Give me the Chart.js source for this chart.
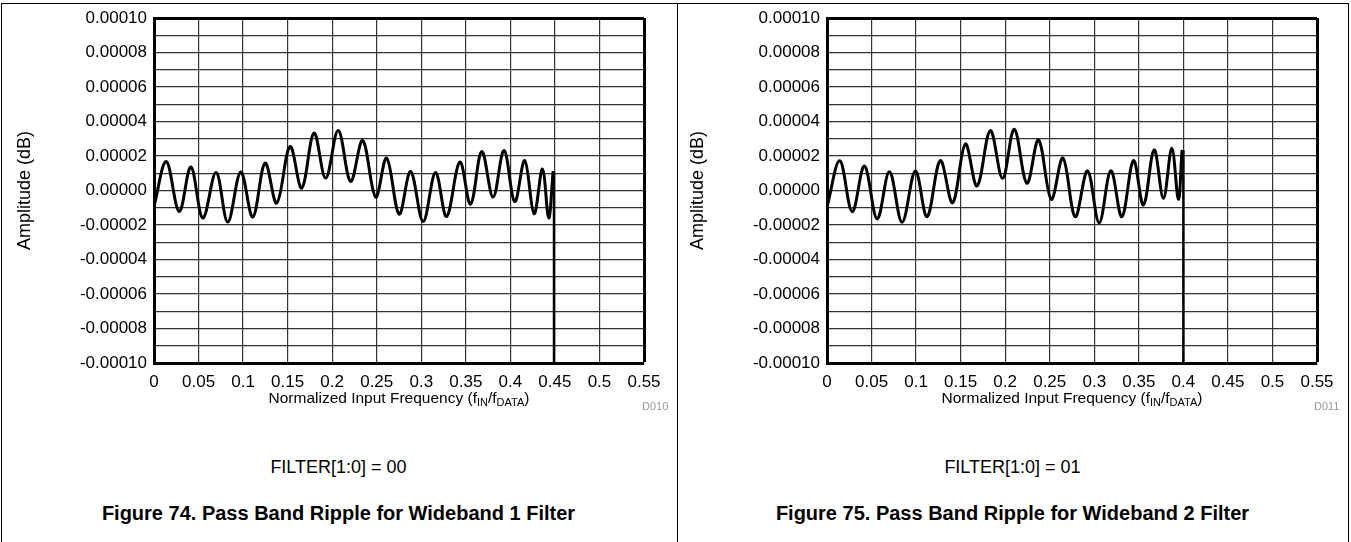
<!DOCTYPE html>
<html>
<head>
<meta charset="utf-8">
<script src="https://cdn.jsdelivr.net/npm/chart.js@4"></script>
<style>
  body { margin: 0; background: #fff; font-family: "Liberation Sans", Arial, sans-serif; }
  #page { position: relative; width: 1351px; height: 542px; overflow: hidden; }
  .frame { position: absolute; left: 1px; top: 3px; width: 1346px; height: 600px;
           border-top: 1px solid #000; border-left: 1px solid #000; border-right: 1px solid #000; }
  .divider { position: absolute; left: 677px; top: 3px; width: 1px; height: 600px; background: #000; }
  canvas { position: absolute; top: 0; }
  .xtitle { position: absolute; width: 400px; text-align: center; font-size: 15.5px; line-height: 18px; color: #000; }
  .xtitle sub { font-size: 11px; line-height: 0; vertical-align: -3px; }
  .code { position: absolute; font-size: 11px; color: #999; }
  .filter { position: absolute; width: 677px; text-align: center; font-size: 18px; color: #000; }
  .caption { position: absolute; width: 677px; text-align: center; font-size: 20px; font-weight: bold; color: #000; }
</style>
</head>
<body>
<div id="page">
  <div class="frame"></div>
  <div class="divider"></div>
  <canvas id="wideband1Chart" width="676" height="420" style="left:0px"></canvas>
  <canvas id="wideband2Chart" width="676" height="420" style="left:673px"></canvas>

  <div class="xtitle" style="left:199px; top:389px">Normalized Input Frequency (f<sub>IN</sub>/f<sub>DATA</sub>)</div>
  <div class="xtitle" style="left:872px; top:389px">Normalized Input Frequency (f<sub>IN</sub>/f<sub>DATA</sub>)</div>
  <div class="code" style="left:642px; top:400px">D010</div>
  <div class="code" style="left:1314px; top:400px">D011</div>

  <div class="filter" style="left:0px; top:457px">FILTER[1:0] = 00</div>
  <div class="filter" style="left:674px; top:457px">FILTER[1:0] = 01</div>
  <div class="caption" style="left:0px; top:502px">Figure 74. Pass Band Ripple for Wideband 1 Filter</div>
  <div class="caption" style="left:674px; top:502px">Figure 75. Pass Band Ripple for Wideband 2 Filter</div>
</div>

<script>
// axis ticks
var xTicks = [0, 0.05, 0.1, 0.15, 0.2, 0.25, 0.3, 0.35, 0.4, 0.45, 0.5, 0.55];
var xTickLabels = ['0', '0.05', '0.1', '0.15', '0.2', '0.25', '0.3', '0.35', '0.4', '0.45', '0.5', '0.55'];
var yGrid = [-10e-5, -9e-5, -8e-5, -7e-5, -6e-5, -5e-5, -4e-5, -3e-5, -2e-5, -1e-5, 0,
             1e-5, 2e-5, 3e-5, 4e-5, 5e-5, 6e-5, 7e-5, 8e-5, 9e-5, 10e-5];
var yTickLabels = ['-0.00010', '-0.00008', '-0.00006', '-0.00004', '-0.00002', '0.00000',
                   '0.00002', '0.00004', '0.00006', '0.00008', '0.00010'];

// Wideband 1 (FILTER = 00): ripple peaks / troughs
var wb1Freq = [0, 0.0137, 0.0283, 0.0414, 0.0548, 0.0697, 0.0828, 0.0974, 0.1109, 0.1247,
               0.1378, 0.1527, 0.1658, 0.1796, 0.1927, 0.2068, 0.2207, 0.2342, 0.2488, 0.2611,
               0.2752, 0.2880, 0.3021, 0.3160, 0.3284, 0.3433, 0.3553, 0.3679, 0.3806, 0.3929,
               0.4049, 0.4161, 0.4266, 0.4360, 0.4430, 0.4480];
var wb1Amp = [-0.93e-5, 1.68e-5, -1.22e-5, 1.36e-5, -1.60e-5, 1.04e-5, -1.83e-5, 1.07e-5, -1.54e-5, 1.59e-5,
              -0.73e-5, 2.55e-5, 0.14e-5, 3.33e-5, 0.72e-5, 3.48e-5, 0.52e-5, 2.90e-5, -0.38e-5, 1.88e-5,
              -1.37e-5, 1.10e-5, -1.80e-5, 1.04e-5, -1.51e-5, 1.65e-5, -0.79e-5, 2.26e-5, -0.38e-5, 2.32e-5,
              -0.64e-5, 1.74e-5, -1.35e-5, 1.24e-5, -1.60e-5, 1.12e-5];
// cut-off drop
var wb1DropFreq = [0.4490, 0.4490];
var wb1DropAmp = [1.12e-5, -10e-5];

// Wideband 2 (FILTER = 01)
var wb2Freq = [0, 0.0143, 0.0283, 0.0420, 0.0563, 0.0701, 0.0843, 0.0992, 0.1123, 0.1272,
               0.1410, 0.1553, 0.1684, 0.1833, 0.1971, 0.2102, 0.2244, 0.2374, 0.2517, 0.2648,
               0.2786, 0.2924, 0.3055, 0.3186, 0.3310, 0.3440, 0.3552, 0.3672, 0.3776, 0.3870,
               0.3944, 0.3985];
var wb2Amp = [-0.97e-5, 1.72e-5, -1.23e-5, 1.42e-5, -1.65e-5, 1.09e-5, -1.84e-5, 1.13e-5, -1.52e-5, 1.73e-5,
              -0.71e-5, 2.70e-5, 0.26e-5, 3.47e-5, 0.71e-5, 3.55e-5, 0.42e-5, 2.93e-5, -0.51e-5, 1.88e-5,
              -1.52e-5, 1.14e-5, -1.87e-5, 1.15e-5, -1.52e-5, 1.73e-5, -0.84e-5, 2.35e-5, -0.45e-5, 2.45e-5,
              -0.51e-5, 2.35e-5];
var wb2DropFreq = [0.4000, 0.4000];
var wb2DropAmp = [2.35e-5, -10e-5];

var fontFamily = '"Liberation Sans", Arial, sans-serif';

function toPoints(xs, ys) {
    return xs.map((x, i) => ({ x: x, y: ys[i] }));
}

function makeChart(canvasId, freq, amp, dropFreq, dropAmp) {
    var ctx = document.getElementById(canvasId);
    return new Chart(ctx, {
        type: 'line',
        data: {
            datasets: [
                {
                    data: toPoints(freq, amp),
                    borderColor: '#000',
                    borderWidth: 3,
                    pointRadius: 0,
                    fill: false,
                    tension: 0.36
                },
                {
                    data: toPoints(dropFreq, dropAmp),
                    borderColor: '#000',
                    borderWidth: 2.5,
                    pointRadius: 0,
                    fill: false,
                    tension: 0
                }
            ]
        },
        options: {
            responsive: false,
            animation: false,
            layout: { padding: { top: 18, right: 32, left: 0, bottom: 0 } },
            plugins: {
                legend: { display: false },
                tooltip: { enabled: false }
            },
            scales: {
                x: {
                    type: 'linear',
                    min: 0,
                    max: 0.55,
                    afterBuildTicks: s => { s.ticks = xTicks.map(v => ({ value: v })); },
                    afterFit: s => { s.height = 57; },
                    ticks: {
                        autoSkip: false,
                        maxRotation: 0,
                        padding: 9,
                        color: '#000',
                        font: { family: fontFamily, size: 17 },
                        callback: (v, i) => xTickLabels[i]
                    },
                    grid: {
                        drawTicks: false,
                        color: c => (c.index === xTicks.length - 1) ? '#000' : '#333',
                        lineWidth: c => (c.index === xTicks.length - 1) ? 3 : 1.2
                    },
                    border: { color: '#000', width: 3 }
                },
                y: {
                    min: -10e-5,
                    max: 10e-5,
                    afterBuildTicks: s => { s.ticks = yGrid.map(v => ({ value: v })); },
                    afterFit: s => { s.width = 154; },
                    ticks: {
                        autoSkip: false,
                        padding: 7,
                        color: '#000',
                        font: { family: fontFamily, size: 17 },
                        callback: (v, i) => (i % 2 === 0) ? yTickLabels[i / 2] : ''
                    },
                    grid: {
                        drawTicks: false,
                        color: c => (c.index === yGrid.length - 1) ? '#000' : '#333',
                        lineWidth: c => (c.index === yGrid.length - 1) ? 3 : 1.2
                    },
                    border: { color: '#000', width: 3 },
                    title: {
                        display: true,
                        text: 'Amplitude (dB)',
                        color: '#000',
                        font: { family: fontFamily, size: 18 },
                        padding: { top: 14, bottom: 0 }
                    }
                }
            }
        }
    });
}

var charts = [];
charts.push(makeChart('wideband1Chart', wb1Freq, wb1Amp, wb1DropFreq, wb1DropAmp));
charts.push(makeChart('wideband2Chart', wb2Freq, wb2Amp, wb2DropFreq, wb2DropAmp));
</script>
</body>
</html>
